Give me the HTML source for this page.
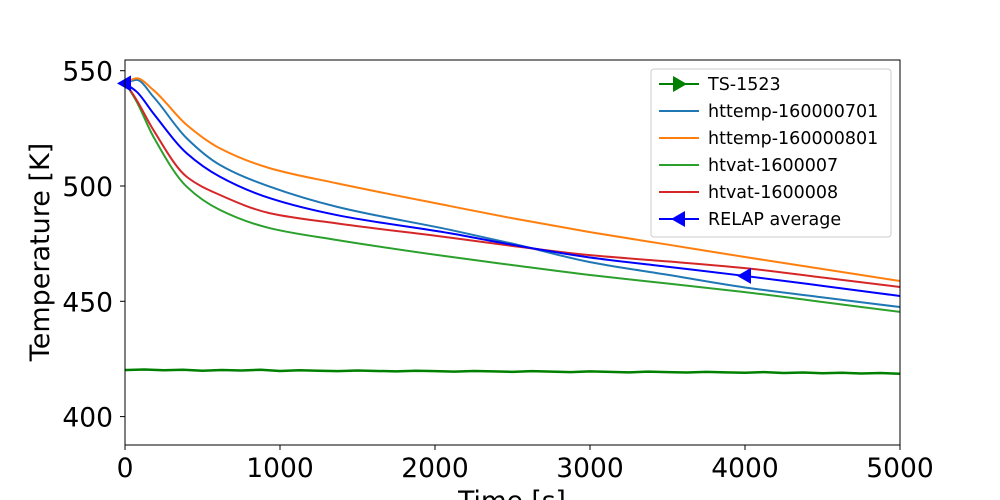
<!DOCTYPE html>
<html><head><meta charset="utf-8"><style>
body{margin:0;background:#fff;}
svg{display:block;font-family:"DejaVu Sans","Liberation Sans",sans-serif;}
</style></head><body>
<svg id="chart" width="1000" height="500" viewBox="0 0 1000 500"></svg>
<script>
const times=[0,75,183,398,613,935,1366,2097,2500,3000,3500,4000,4500,5000];
const ht701=[544.5,546,538.7,520.7,509.1,499.7,491,481,475,467,461.5,456,451.7,447.5];
const ht801=[544.5,546.7,541.6,526.5,516.3,507.7,501.2,491.3,486,480,474.6,469.2,464,458.8];
const vat7=[545,536.6,521.4,499.7,489.6,481.7,476.6,469.3,465.7,461.4,457.7,454,449.7,445.4];
const vat8=[545,537.3,524.3,504,496.1,488.2,483.8,477.6,474,470,467.3,464.4,460.3,456.2];
const relapAvg=[544.5,540.9,531.5,514.2,504,494.7,487.4,479.5,474.5,469,465,461,456.7,452.3];
const tsTimes=[0,125,250,375,500,625,750,875,1000,1125,1250,1375,1500,1625,1750,1875,2000,2125,2250,2375,2500,2625,2750,2875,3000,3125,3250,3375,3500,3625,3750,3875,4000,4125,4250,4375,4500,4625,4750,4875,5000];
const tsVals=[420.2,420.4,420.1,420.3,419.9,420.2,420.0,420.3,419.8,420.1,419.9,419.7,420.0,419.8,419.6,419.9,419.7,419.5,419.8,419.6,419.4,419.7,419.5,419.3,419.6,419.4,419.2,419.5,419.3,419.1,419.4,419.2,419.0,419.3,418.9,419.1,418.8,419.0,418.7,418.9,418.6];
const xTicks=[0,1000,2000,3000,4000,5000];
const yTicks=[400,450,500,550];
const L=125,R=900,T=60,B=445;
const X=t=>L+t*(R-L)/5000;
const Y=v=>186-(v-500)*2.306;
const svg=document.getElementById('chart');
const NS='http://www.w3.org/2000/svg';
function el(tag,attrs,parent){const e=document.createElementNS(NS,tag);for(const k in attrs)e.setAttribute(k,attrs[k]);(parent||svg).appendChild(e);return e;}
function smooth(xs,ys){
  const px=xs.map(X),py=ys.map(Y),n=px.length;
  const d=[],m=new Array(n);
  for(let i=0;i<n-1;i++)d.push((py[i+1]-py[i])/(px[i+1]-px[i]));
  m[0]=d[0];m[n-1]=d[n-2];
  for(let i=1;i<n-1;i++){
    if(d[i-1]*d[i]<=0)m[i]=0;
    else{const h0=px[i]-px[i-1],h1=px[i+1]-px[i];const w1=2*h1+h0,w2=h1+2*h0;m[i]=(w1+w2)/(w1/d[i-1]+w2/d[i]);}
  }
  let s='M'+px[0]+','+py[0];
  for(let i=0;i<n-1;i++){const h=(px[i+1]-px[i])/3;
    s+=`C${px[i]+h},${py[i]+m[i]*h} ${px[i+1]-h},${py[i+1]-m[i+1]*h} ${px[i+1]},${py[i+1]}`;}
  return s;}
const clip=el('clipPath',{id:'pc'});el('rect',{x:L,y:T,width:R-L,height:B-T},clip);
const g=el('g',{'clip-path':'url(#pc)'});


const tsPath=el('polyline',{points:tsTimes.map((t,i)=>X(t)+','+Y(tsVals[i])).join(' '),fill:'none',stroke:'#008000','stroke-width':2.5},g);


const series=[[ht701,'#1f77b4','httemp-160000701-line'],[ht801,'#ff7f0e','httemp-160000801-line'],[vat7,'#2ca02c','htvat-1600007-line'],[vat8,'#d62728','htvat-1600008-line'],[relapAvg,'#0000ff','relap-average-line']];
series.forEach(s=>{const p=el('path',{d:smooth(times,s[0]),fill:'none',stroke:s[1],'stroke-width':2},g);

});
function triLeft(cx,cy,c,par){return el('polygon',{points:`${cx-8},${cy} ${cx+6},${cy-8} ${cx+6},${cy+8}`,fill:c},par);}
function triRight(cx,cy,c,par){return el('polygon',{points:`${cx+8},${cy} ${cx-6},${cy-8} ${cx-6},${cy+8}`,fill:c},par);}
[[0,544.5],[4000,461]].forEach(p=>{const m=triLeft(X(p[0]),Y(p[1]),'#0000ff',svg);

});
el('rect',{x:L,y:T,width:R-L,height:B-T,fill:'none',stroke:'#000','stroke-width':1});
xTicks.forEach(t=>{el('line',{x1:X(t),x2:X(t),y1:B,y2:B+5,stroke:'#000'});const tx=el('text',{x:X(t),y:B+32,'font-size':26.5,'text-anchor':'middle'});tx.textContent=t;

});
yTicks.forEach(v=>{el('line',{x1:L-5,x2:L,y1:Y(v),y2:Y(v),stroke:'#000'});const tx=el('text',{x:L-12,y:Y(v)+10,'font-size':26.5,'text-anchor':'end'});tx.textContent=v;

});
const xl=el('text',{x:512,y:510,'font-size':26.5,'text-anchor':'middle'});xl.textContent='Time [s]';


const yl=el('text',{x:49,y:252,'font-size':27,'text-anchor':'middle',transform:'rotate(-90 49 252)'});yl.textContent='Temperature [K]';


const lg=el('g',{});


el('rect',{x:651,y:69,width:240,height:168,rx:3,fill:'#fff',stroke:'#ccc'},lg);
const names=['TS-1523','httemp-160000701','httemp-160000801','htvat-1600007','htvat-1600008','RELAP average'];
const cols=['#008000','#1f77b4','#ff7f0e','#2ca02c','#d62728','#0000ff'];
names.forEach((n,i)=>{const y=84+i*27;const e=el('g',{},lg);


el('line',{x1:659,x2:699,y1:y,y2:y,stroke:cols[i],'stroke-width':2},e);
if(i===0)triRight(679,y,cols[i],e);if(i===5)triLeft(679,y,cols[i],e);
const t=el('text',{x:708,y:y+6,'font-size':17.5},e);t.textContent=n;});
</script>
</body></html>
